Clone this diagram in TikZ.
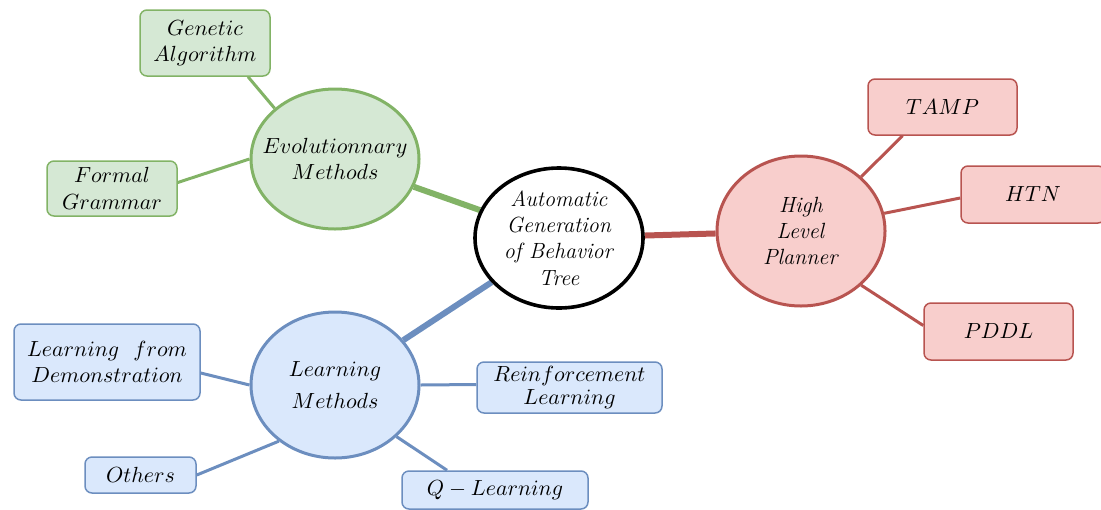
\documentclass[tikz,border=0pt]{standalone}
\usetikzlibrary{shapes.geometric,backgrounds}
\definecolor{gfill}{HTML}{D5E8D4}\definecolor{gline}{HTML}{82B366}
\definecolor{bfill}{HTML}{DAE8FC}\definecolor{bline}{HTML}{6C8EBF}
\definecolor{rfill}{HTML}{F8CECC}\definecolor{rline}{HTML}{B85450}
\tikzset{
  every node/.style={font=\fontsize{11}{13.2}\selectfont},
  oval/.style={ellipse, inner sep=0pt, minimum width=84pt, minimum height=70pt, line width=1.5pt},
  inlabel/.style={label={[align=center, font=\fontsize{11}{13.2}\selectfont]center:#1}},
  leaf/.style={rectangle, rounded corners=3.5pt, line width=0.75pt, align=center, inner sep=0pt},
  thick edge/.style={line width=3pt},
  thin edge/.style={line width=1.5pt},
}
\begin{document}
\begin{tikzpicture}[x=0.5pt,y=-0.5pt]
\clip (0,0) rectangle (1101,509);
% main ellipses
\node[oval, draw=black, line width=1.8pt, fill=white, inlabel={\textit{Automatic}\\\textit{Generation}\\\textit{of Behavior}\\\textit{Tree}}] (abt) at (559,238) {};
\node[oval, draw=gline, fill=gfill, inlabel={$Evolutionnary$\\$Methods$}] (evo) at (335,159) {};
\node[oval, draw=bline, fill=bfill, minimum height=73pt, inlabel={$Learning$\\[3pt]$Methods$}] (lm) at (335,385) {};
\node[oval, draw=rline, fill=rfill, minimum height=75pt, inlabel={\textit{High}\\\textit{Level}\\\textit{Planner}}] (hlp) at (801,231) {};
% leaves
\node[leaf, draw=gline, fill=gfill, minimum width=65pt, minimum height=33pt] (gen) at (205,43) {$Genetic$\\$Algorithm$};
\node[leaf, draw=gline, fill=gfill, minimum width=65pt, minimum height=27.5pt] (fg) at (112,188.5) {$Formal$\\$Grammar$};
\node[leaf, draw=rline, fill=rfill, minimum width=74.5pt, minimum height=28pt] (tamp) at (942.5,107) {$TAMP$};
\node[leaf, draw=rline, fill=rfill, minimum width=72pt, minimum height=28.5pt] (htn) at (1033,194.5) {$HTN$};
\node[leaf, draw=rline, fill=rfill, minimum width=74.5pt, minimum height=28.5pt] (pddl) at (998.5,331.5) {$PDDL$};
\node[leaf, draw=bline, fill=bfill, minimum width=93pt, minimum height=38pt] (lfd) at (107,362) {$Learning\ \ from$\\$Demonstration$};
\node[leaf, draw=bline, fill=bfill, minimum width=55.5pt, minimum height=18pt] (oth) at (140.5,475) {$Others$};
\node[leaf, draw=bline, fill=bfill, minimum width=92.5pt, minimum height=25.5pt] (rl) at (569.5,387.5) {$Reinforcement$\\[-2pt]$Learning$};
\node[leaf, draw=bline, fill=bfill, minimum width=93pt, minimum height=19pt] (ql) at (495,490) {$Q-Learning$};
% edges
\begin{pgfonlayer}{background}
\draw[thick edge, gline] (abt) -- (evo);
\draw[thick edge, bline] (abt) -- (lm);
\draw[thick edge, rline] (abt) -- (hlp);
\draw[thin edge, gline] ([xshift=21.5pt]gen.south) -- (evo.140);
\draw[thin edge, gline] ([yshift=3pt]fg.east) -- (evo.west);
\draw[thin edge, rline] ([xshift=-20pt]tamp.south) -- (hlp.42);
\draw[thin edge, rline] ([yshift=-1.75pt]htn.west) -- (hlp.12);
\draw[thin edge, rline] ([yshift=3pt]pddl.west) -- (hlp.-42);
\draw[thin edge, bline] ([yshift=-5.5pt]lfd.east) -- (lm.west);
\draw[thin edge, bline] (oth.east) -- (lm.225);
\draw[thin edge, bline] ([yshift=1.5pt]rl.west) -- (lm.east);
\draw[thin edge, bline] ([xshift=-24pt]ql.north) -- (lm.-40);
\end{pgfonlayer}
\end{tikzpicture}
\end{document}
